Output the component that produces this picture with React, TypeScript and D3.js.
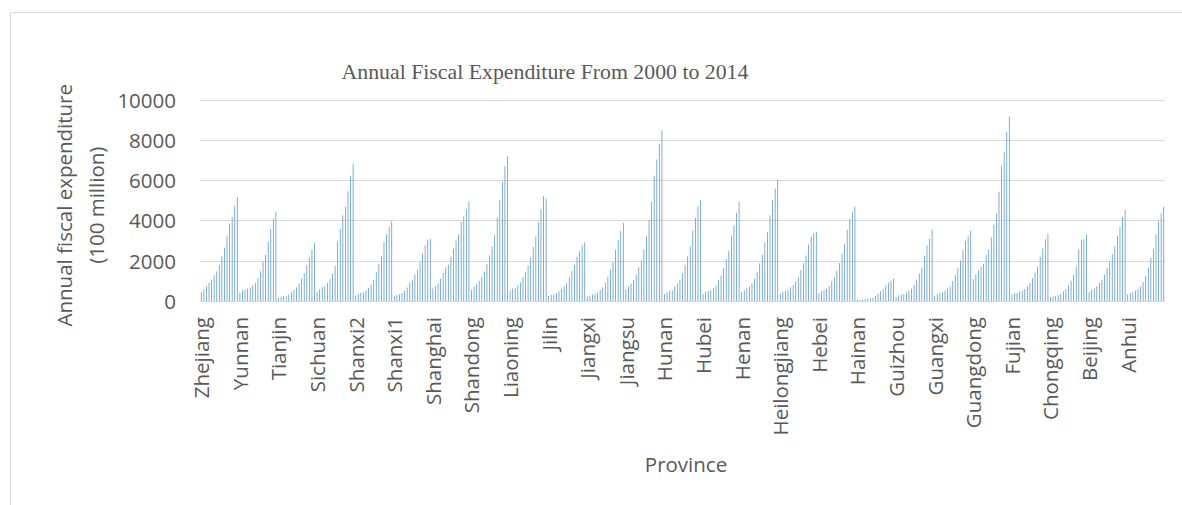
import React from "react";
import * as d3 from "d3";

const provinces = [
  "Zhejiang", "Yunnan", "Tianjin", "Sichuan", "Shanxi2", "Shanxi1", "Shanghai", "Shandong",
  "Liaoning", "Jilin", "Jiangxi", "Jiangsu", "Hunan", "Hubei", "Henan", "Heilongjiang",
  "Hebei", "Hainan", "Guizhou", "Guangxi", "Guangdong", "Fujian", "Chongqing", "Beijing", "Anhui",
];
const years = [2000, 2001, 2002, 2003, 2004, 2005, 2006, 2007, 2008, 2009, 2010, 2011, 2012, 2013, 2014];

const zhejiang = [431, 598, 733, 897, 1063, 1266, 1472, 1807, 2209, 2653, 3208, 3843, 4162, 4730, 5160];
const yunnan = [414, 536, 586, 625, 664, 766, 894, 1135, 1470, 1952, 2286, 2930, 3573, 4096, 4438];
const tianjin = [167, 213, 237, 271, 323, 443, 543, 675, 867, 1124, 1376, 1796, 2143, 2549, 2884];
const sichuan = [475, 595, 689, 733, 896, 1082, 1347, 1759, 2949, 3591, 4258, 4675, 5451, 6221, 6797];
const shanxi2 = [271, 346, 403, 439, 516, 639, 824, 1053, 1429, 1842, 2219, 2931, 3323, 3665, 3963];
const shanxi1 = [224, 291, 331, 398, 518, 668, 915, 1049, 1315, 1562, 1931, 2364, 2759, 3030, 3085];
const shanghai = [623, 726, 878, 1102, 1395, 1660, 1796, 2202, 2594, 2990, 3303, 3915, 4184, 4529, 4924];
const shandong = [559, 720, 860, 1010, 1189, 1466, 1833, 2262, 2705, 3268, 4145, 5002, 5904, 6689, 7177];
const liaoning = [519, 616, 645, 785, 931, 1204, 1422, 1764, 2153, 2682, 3196, 3906, 4559, 5197, 5080];
const jilin = [250, 300, 320, 390, 480, 610, 718, 883, 1180, 1479, 1787, 2201, 2471, 2745, 2913];
const jiangxi = [223, 272, 320, 350, 430, 550, 680, 905, 1210, 1562, 1923, 2535, 3019, 3470, 3883];
const jiangsu = [591, 734, 861, 1047, 1312, 1673, 2013, 2554, 3247, 4017, 4914, 6222, 7028, 7798, 8472];
const hunan = [346, 427, 501, 526, 720, 874, 1064, 1357, 1766, 2210, 2703, 3520, 4119, 4691, 5017];
const hubei = [345, 470, 495, 530, 630, 760, 1047, 1275, 1650, 2091, 2501, 3215, 3760, 4372, 4934];
const henan = [445, 527, 629, 716, 880, 1116, 1440, 1870, 2282, 2906, 3416, 4249, 5006, 5582, 6029];
const heilongjiang = [370, 460, 500, 540, 680, 787, 969, 1188, 1542, 1877, 2254, 2794, 3172, 3369, 3434];
const hebei = [380, 490, 545, 610, 760, 979, 1180, 1506, 1882, 2348, 2820, 3537, 4080, 4410, 4678];
const hainan = [60, 70, 78, 90, 105, 140, 175, 246, 358, 487, 582, 779, 911, 1011, 1100];
const guizhou = [201, 275, 318, 341, 418, 521, 611, 795, 1053, 1372, 1631, 2249, 2755, 3082, 3543];
const guangxi = [259, 345, 400, 440, 507, 611, 729, 985, 1297, 1621, 2008, 2545, 2985, 3208, 3480];
const guangdong = [1080, 1322, 1521, 1695, 1853, 2289, 2553, 3160, 3779, 4334, 5422, 6713, 7388, 8411, 9153];
const fujian = [324, 384, 392, 449, 516, 593, 729, 910, 1138, 1412, 1695, 2198, 2608, 3069, 3306];
const chongqing = [187, 220, 260, 300, 360, 487, 594, 768, 1016, 1292, 1709, 2570, 3046, 3063, 3304];
const beijing = [443, 559, 629, 735, 898, 1058, 1297, 1650, 1959, 2319, 2717, 3246, 3685, 4174, 4525];
const anhui = [322, 387, 437, 507, 601, 713, 940, 1244, 1647, 2142, 2588, 3303, 3961, 4350, 4664];

const seriesByProvince = [
  zhejiang, yunnan, tianjin, sichuan, shanxi2, shanxi1, shanghai, shandong,
  liaoning, jilin, jiangxi, jiangsu, hunan, hubei, henan, heilongjiang,
  hebei, hainan, guizhou, guangxi, guangdong, fujian, chongqing, beijing, anhui,
];

const yTicks = [0, 2000, 4000, 6000, 8000, 10000];

const W = 1182;
const H = 505;
const plotLeft = 200;
const plotRight = 1165;
const plotTop = 99.5;
const plotBottom = 301;
const textColor = "#595959";
const gridColor = "#D9D9D9";
const barColor = "#5B9BD5";
const sans = "'Open Sans', 'DejaVu Sans', sans-serif";
const fs = 20.5;

type Row = { key: string; province: string; year: number; value: number; idx: number };

export default function App() {
  const rows: Row[] = [];
  provinces.forEach((p, pi) => {
    years.forEach((yr, yi) => {
      rows.push({ key: `${p}-${yr}`, province: p, year: yr, value: seriesByProvince[pi][yi], idx: pi * years.length + yi });
    });
  });

  const gap = 1 - 1 / 3.19;
  const x = d3
    .scaleBand<number>()
    .domain(rows.map((r) => r.idx))
    .range([plotLeft, plotRight])
    .paddingInner(gap)
    .paddingOuter(gap / 2);

  const y = d3.scaleLinear().domain([0, 10000]).range([plotBottom, plotTop]);

  return (
    <svg
      width={W}
      height={H}
      style={{ position: "absolute", left: 0, top: 0, background: "#fff" }}
    >
      <rect x={0} y={0} width={W} height={H} fill="#fff" />
      <rect x={10.5} y={12.5} width={W + 20} height={H + 20} fill="#fff" stroke={gridColor} strokeWidth={1} />

      <text
        x={545}
        y={79}
        textAnchor="middle"
        fontFamily="'Liberation Serif', 'Times New Roman', serif"
        fontSize={21.8}
        fill={textColor}
      >
        Annual Fiscal Expenditure From 2000 to 2014
      </text>

      {yTicks.map((t) => (
        <g key={t}>
          <line
            x1={plotLeft}
            x2={plotRight}
            y1={Math.round(y(t)) + 0.5}
            y2={Math.round(y(t)) + 0.5}
            stroke={gridColor}
            strokeWidth={1}
          />
          <text
            x={176}
            y={y(t)}
            textAnchor="end"
            dominantBaseline="central"
            fontFamily={sans}
            fontSize={fs}
            fill={textColor}
          >
            {t}
          </text>
        </g>
      ))}

      {rows.map((r) => (
        <rect
          key={r.key}
          x={x(r.idx)!}
          y={y(r.value)}
          width={x.bandwidth()}
          height={y(0) - y(r.value)}
          fill={barColor}
        />
      ))}

      {provinces.map((p, pi) => {
        const cx = x(pi * years.length)! + x.bandwidth() / 2;
        return (
          <text
            key={p}
            transform={`translate(${cx},317) rotate(-90)`}
            textAnchor="end"
            dominantBaseline="central"
            fontFamily={sans}
            fontSize={fs}
            fill={textColor}
          >
            {p}
          </text>
        );
      })}

      <text
        transform={`translate(64,${(plotTop + plotBottom) / 2 + 5}) rotate(-90)`}
        textAnchor="middle"
        dominantBaseline="central"
        fontFamily={sans}
        fontSize={fs}
        fill={textColor}
      >
        Annual fiscal expenditure
      </text>
      <text
        transform={`translate(96,${(plotTop + plotBottom) / 2 + 5}) rotate(-90)`}
        textAnchor="middle"
        dominantBaseline="central"
        fontFamily={sans}
        fontSize={fs}
        fill={textColor}
      >
        (100 million)
      </text>

      <text
        x={686}
        y={472}
        textAnchor="middle"
        fontFamily={sans}
        fontSize={fs}
        fill={textColor}
      >
        Province
      </text>
    </svg>
  );
}
